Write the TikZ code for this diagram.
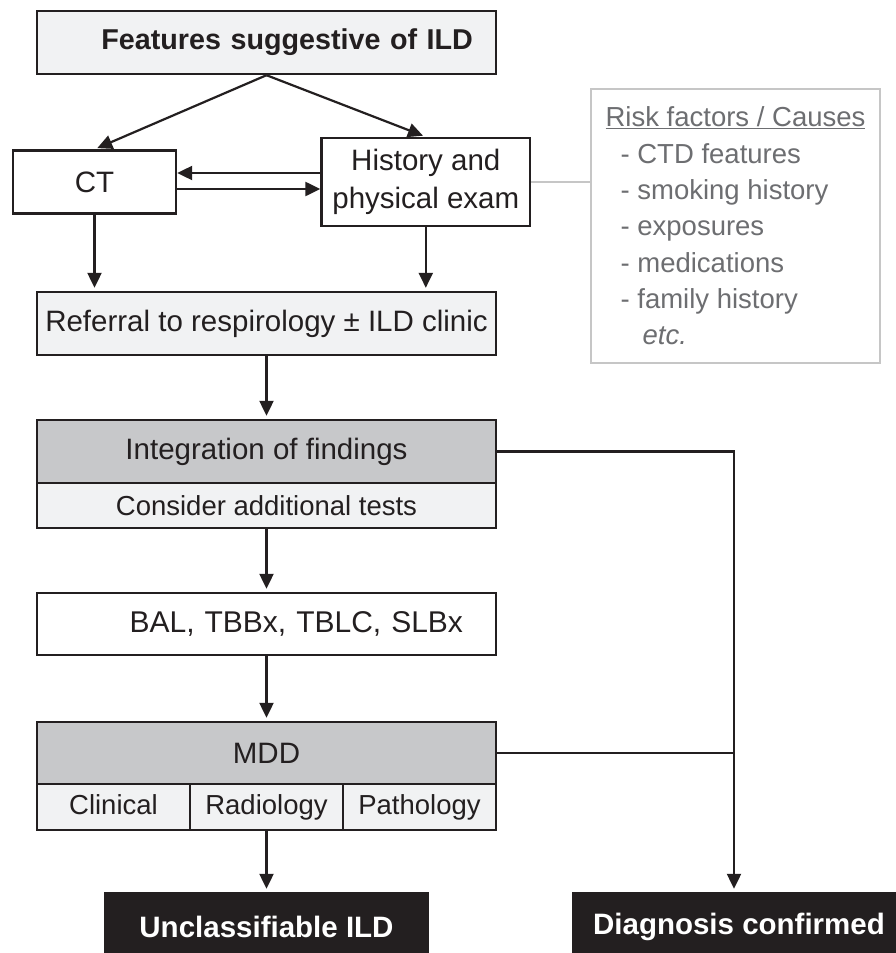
\documentclass[tikz,border=0pt]{standalone}
\usepackage{fontspec}
\setmainfont{Liberation Sans}
\usetikzlibrary{positioning,arrows.meta}
\definecolor{ink}{HTML}{231F20}
\definecolor{pale}{HTML}{F1F2F3}
\definecolor{midgray}{HTML}{C7C8CA}
\definecolor{risktext}{HTML}{6D6E71}
\definecolor{riskline}{HTML}{C6C6C6}

\begin{document}
\begin{tikzpicture}[x=1pt,y=-1pt,on grid,shorten >=3pt,line width=2.2pt,color=ink,
   >={Triangle[length=15pt,width=14pt]},
   box/.style={draw=ink,line width=2.4pt,text=ink,inner sep=0pt,
     minimum width=459pt,minimum height=63pt,font=\fontsize{29.5}{38}\selectfont},
   palebox/.style={box,fill=pale},
   darkbox/.style={box,fill=midgray},
   smallbox/.style={box,fill=pale,minimum height=45pt,font=\fontsize{27.5}{34}\selectfont},
   partbox/.style={smallbox,minimum width=153pt,minimum height=46pt,
     text height=20pt,text depth=6pt},
   endbox/.style={box,fill=ink,text=white,minimum height=68pt,
     font=\fontsize{29.5}{36}\selectfont\bfseries},
   riskbox/.style={draw=riskline,line width=1.6pt,text=risktext,align=left,
     minimum width=289pt,minimum height=274pt,inner sep=0pt,
     font=\fontsize{27.5}{36.3}\selectfont}]
   \useasboundingbox (0,0) rectangle (896,953);
   \clip (0,0) rectangle (896,953);
   \fill[white] (0,0) rectangle (896,953);

   % first steps
   \node[palebox,text width=413pt,inner xsep=23pt,align=right,
     font=\fontsize{28.7}{34}\selectfont\bfseries] (feat) at (266.5,42.5) {Features suggestive of ILD};
   \node[box,minimum width=163pt] (ct) [below left=139.5pt and 172pt of feat] {CT};
   \node[box,minimum width=208.5pt,minimum height=88pt,align=center] (hist)
     [below right=139.5pt and 159.3pt of feat] {History and\\physical exam};
   \node[riskbox] (risk) [below right=44pt and 309.7pt of hist]
     {\underline{Risk factors / Causes}\\
      \hspace*{15pt}- CTD features\\
      \hspace*{15pt}- smoking history\\
      \hspace*{15pt}- exposures\\
      \hspace*{15pt}- medications\\
      \hspace*{15pt}- family history\\
      \hspace*{37pt}\textit{etc.}};
   \node[palebox] (ref) [below=281pt of feat] {Referral to respirology ± ILD clinic};

   % work-up
   \node[darkbox] (integ) [below=128pt of ref] {Integration of findings};
   \node[smallbox] (cons) [below=54pt of integ] {Consider additional tests};
   \node[box,minimum height=62pt,text width=393pt,inner xsep=33pt,align=right,
     font=\fontsize{30}{36}\selectfont] (bal) [below=118.5pt of cons] {BAL, TBBx, TBLC, SLBx};
   \node[darkbox,minimum height=62pt] (mdd) [below=129pt of bal] {MDD};
   \node[partbox] (rad) [below=54pt of mdd] {Radiology};
   \node[partbox] (clin) [left=153pt of rad] {Clinical};
   \node[partbox] (path) [right=153pt of rad] {Pathology};

   % outcomes
   \node[endbox,minimum width=323pt] (uncl) [below=120pt of rad] {Unclassifiable ILD};
   \node[endbox,minimum width=332pt] (diag) [right=472.5pt of uncl] {Diagnosis confirmed};
   \coordinate (jn) at (734,451.5);

   \path[->]
     (feat.south) edge (ct.north)
                  edge (hist.north)
     ([yshift=9pt]hist.west) edge [shorten >=0pt] ([yshift=9pt]ct.east)
     ([yshift=-7pt]ct.east) edge [shorten >=0pt] ([yshift=-7pt]hist.west)
     (ct.south) edge (ct.south |- ref.north)
     (hist.south) edge (hist.south |- ref.north)
     (ref.south) edge (integ.north)
     (cons.south) edge (bal.north)
     (bal.south) edge (mdd.north)
     (rad.south) edge (uncl.north);
   \draw[riskline,shorten >=0pt] (hist.east) -- (hist.east -| risk.west);
   \draw[->] (integ.east) -- (jn) -- (jn |- diag.north);
   \draw[shorten >=0pt] (mdd.east) -- (mdd.east -| jn);
\end{tikzpicture}
\end{document}
